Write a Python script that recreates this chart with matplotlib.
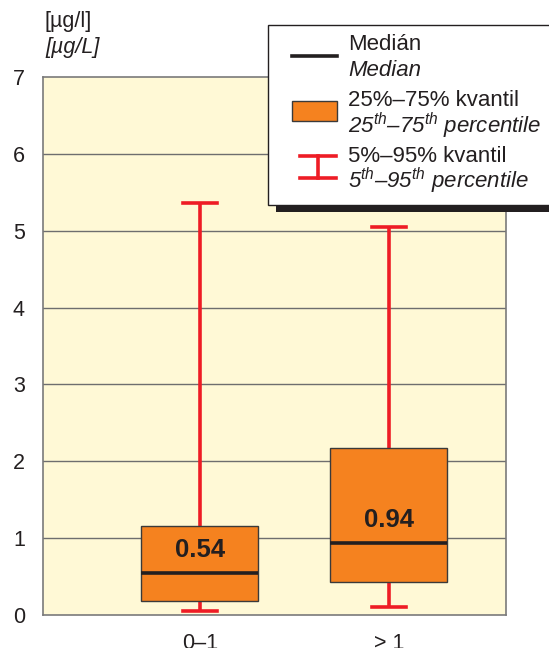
import matplotlib.pyplot as plt
from matplotlib.patches import Rectangle
from matplotlib.lines import Line2D

plt.rcParams['font.family'] = ['Liberation Sans', 'DejaVu Sans']
plt.rcParams['mathtext.fontset'] = 'custom'
plt.rcParams['mathtext.rm'] = 'Liberation Sans'
plt.rcParams['mathtext.it'] = 'Liberation Sans:italic'
plt.rcParams['mathtext.default'] = 'it'

# box statistics per group
groups = ['0–1', '> 1']
p5 = [0.05, 0.10]
q1 = [0.18, 0.43]
median = [0.54, 0.94]
q3 = [1.16, 2.17]
p95 = [5.36, 5.05]

W, H = 549, 648
fig = plt.figure(figsize=(W / 100, H / 100), dpi=100)
ax = fig.add_axes([43 / W, 1 - 615 / H, 463 / W, 538 / H])
ax.set_facecolor('#FFF9D6')

orange = '#F5821F'
red = '#EE1C25'
ink = '#231F20'
box_w = 0.62
cap_w = 0.18
pos = [1, 2]
fs = 15.5

for y in range(1, 7):
    ax.axhline(y, color='#6E6E6E', lw=1.0, zorder=1)

for i, x in enumerate(pos):
    ax.plot([x, x], [p5[i], q1[i]], color=red, lw=2.6, zorder=2, solid_capstyle='butt')
    ax.plot([x, x], [q3[i], p95[i]], color=red, lw=2.6, zorder=2, solid_capstyle='butt')
    ax.plot([x - cap_w / 2, x + cap_w / 2], [p5[i], p5[i]], color=red, lw=2.6, zorder=2)
    ax.plot([x - cap_w / 2, x + cap_w / 2], [p95[i], p95[i]], color=red, lw=2.6, zorder=2)
    ax.add_patch(Rectangle((x - box_w / 2, q1[i]), box_w, q3[i] - q1[i],
                           facecolor=orange, edgecolor='#3A3A3A', lw=1.0, zorder=3))
    ax.plot([x - box_w / 2, x + box_w / 2], [median[i], median[i]], color=ink,
            lw=2.6, zorder=4, solid_capstyle='butt')
    ax.text(x, median[i] + 0.3, f'{median[i]:.2f}', ha='center', va='center',
            fontsize=18.5, fontweight='bold', color=ink, zorder=5)

ax.set_xlim(0.17, 2.62)
ax.set_ylim(0, 7)
ax.set_yticks(range(0, 8))
ax.set_xticks(pos)
ax.set_xticklabels(groups)
ax.tick_params(axis='both', length=0, labelsize=fs, colors=ink)
ax.tick_params(axis='y', pad=13)
ax.tick_params(axis='x', pad=13)
for s in ax.spines.values():
    s.set_color('#7A7A7A')
    s.set_linewidth(1.2)

# unit labels
fig.text(45 / W, 1 - 22 / H, '[µg/l]', fontsize=fs, va='center', color=ink)
fig.text(45 / W, 1 - 48 / H, '[µg/L]', fontsize=fs, va='center', style='italic', color=ink)


def fx(px):
    return px / W


def fy(py):
    return 1 - py / H


# legend panel with drop shadow
fig.add_artist(Rectangle((fx(276), fy(212)), 300 / W, 180 / H,
                         transform=fig.transFigure, facecolor=ink, edgecolor='none', zorder=10))
fig.add_artist(Rectangle((fx(268), fy(205)), 300 / W, 180 / H,
                         transform=fig.transFigure, facecolor='white', edgecolor=ink,
                         lw=1.0, zorder=11))

fig.add_artist(Line2D([fx(292), fx(337)], [fy(56), fy(56)], color=ink, lw=2.6,
                      transform=fig.transFigure, zorder=12))
fig.add_artist(Rectangle((fx(292), fy(121)), 45 / W, 20 / H, transform=fig.transFigure,
                         facecolor=orange, edgecolor='#3A3A3A', lw=1.0, zorder=12))
fig.add_artist(Line2D([fx(300), fx(336)], [fy(156), fy(156)], color=red, lw=2.6,
                      transform=fig.transFigure, zorder=12))
fig.add_artist(Line2D([fx(300), fx(336)], [fy(178), fy(178)], color=red, lw=2.6,
                      transform=fig.transFigure, zorder=12))
fig.add_artist(Line2D([fx(318), fx(318)], [fy(156), fy(178)], color=red, lw=2.6,
                      transform=fig.transFigure, zorder=12))

legend_lines = [
    (45, 'Medián', 'normal'),
    (71, 'Median', 'italic'),
    (101, '25%–75% kvantil', 'normal'),
    (126, '25$^{th}$–75$^{th}$ percentile', 'italic'),
    (156, '5%–95% kvantil', 'normal'),
    (181, '5$^{th}$–95$^{th}$ percentile', 'italic'),
]
for py, txt, st in legend_lines:
    fig.text(fx(348), fy(py), txt, fontsize=16, style=st, va='center',
             color=ink, zorder=13)

fig.savefig('out.png', dpi=100)
